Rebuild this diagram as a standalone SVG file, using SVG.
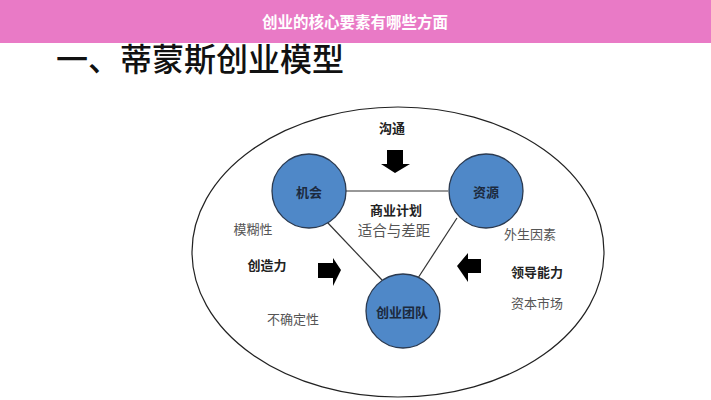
<svg xmlns="http://www.w3.org/2000/svg" width="711" height="400" viewBox="0 0 711 400">
<style>
.t{font-family:"Noto Sans CJK SC","Liberation Sans",sans-serif;text-anchor:middle;dominant-baseline:central}
.b{font-weight:bold;fill:#222;font-size:13px}
.g{fill:#555;font-size:13px}
.n{fill:#4f88c8;stroke:#2b3a50;stroke-width:1.3}
.nt{font-weight:bold;fill:#1c2a3e;font-size:13px}
.ln{stroke:#333;stroke-width:1.2;fill:none}
</style>
<rect width="711" height="400" fill="#fff"/>
<text class="t" x="56" y="57" style="text-anchor:start;font-size:32px;font-weight:500;fill:#111">一、蒂蒙斯创业模型</text>
<rect width="711" height="43" fill="#e97ac6"/>
<text class="t" x="355" y="21" style="font-size:15.5px;font-weight:bold;fill:#fff">创业的核心要素有哪些方面</text>
<ellipse cx="398" cy="252" rx="206" ry="145" fill="none" stroke="#222" stroke-width="1.2"/>
<g id="connectors">
<line class="ln" x1="346" y1="191" x2="448" y2="191"/>
<line class="ln" x1="327" y1="222" x2="382" y2="280"/>
<line class="ln" x1="457" y1="218" x2="418" y2="278"/>
</g>
<g id="arrows" fill="#000">
<polygon points="387,150 403,150 403,164 410,164 395,173 381,164 387,164"/>
<polygon points="318,263 333,263 333,258 341,270 333,286 333,278 318,278"/>
<polygon points="481,259 468,259 468,253 457,266 468,282 468,273 481,273"/>
</g>
<g id="n-jihui"><circle class="n" cx="309" cy="191" r="37"/><text class="t nt" x="309" y="191">机会</text></g>
<g id="n-ziyuan"><circle class="n" cx="486" cy="191" r="37"/><text class="t nt" x="486" y="191">资源</text></g>
<g id="n-tuandui"><circle class="n" cx="403" cy="311" r="37"/><text class="t nt" x="402" y="311">创业团队</text></g>
<g id="labels">
<text class="t b" x="392" y="127">沟通</text>
<text class="t b" x="396" y="209">商业计划</text>
<text class="t g" x="394" y="229" style="font-size:14.5px">适合与差距</text>
<text class="t g" x="253" y="228">模糊性</text>
<text class="t g" x="530" y="233">外生因素</text>
<text class="t b" x="267" y="264">创造力</text>
<text class="t b" x="537" y="271">领导能力</text>
<text class="t g" x="293" y="318">不确定性</text>
<text class="t g" x="537" y="302">资本市场</text>
</g>
</svg>
